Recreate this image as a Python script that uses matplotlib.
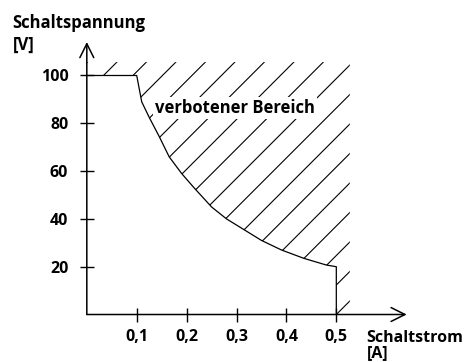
import matplotlib.pyplot as plt
import numpy as np
from matplotlib.collections import LineCollection
from matplotlib.patches import Polygon

# limit curve: Schaltstrom [A] vs. Schaltspannung [V]
strom = [0, 0.1, 0.11, 0.125, 0.145, 0.165, 0.19, 0.215, 0.25, 0.28,
         0.315, 0.35, 0.39, 0.435, 0.48, 0.5, 0.5]
spannung = [100, 100, 89, 82.5, 74.5, 66, 59, 53, 45, 40,
            35.5, 31, 27, 23.5, 20.7, 20, 0]

x_ticks = [0.1, 0.2, 0.3, 0.4, 0.5]
x_labels = ['0,1', '0,2', '0,3', '0,4', '0,5']
y_ticks = [20, 40, 60, 80, 100]
y_labels = ['20', '40', '60', '80', '100']

# bounds of the forbidden area (hatched)
region_right = 0.527
region_top = 105.6
hatch_step = 0.0591  # spacing of hatch lines along the current axis

plt.rcParams['font.family'] = 'Open Sans'
plt.rcParams['font.weight'] = 'bold'

fig = plt.figure(figsize=(4.68, 3.62), dpi=100)
ax = fig.add_axes([0.1855, 0.1312, 0.7037, 0.7659])
ax.set_xlim(0, 0.66)
ax.set_ylim(0, 116)
for s in ax.spines.values():
    s.set_visible(False)

# axes drawn as arrows
arrow = dict(arrowstyle='->,head_length=0.5,head_width=0.25', lw=1.1,
             color='black', shrinkA=0, shrinkB=0, mutation_scale=20)
ax.annotate('', xy=(0.641, 0), xytext=(0, 0), arrowprops=arrow,
            annotation_clip=False)
ax.annotate('', xy=(0, 114), xytext=(0, 0), arrowprops=arrow,
            annotation_clip=False)

ax.set_xticks(x_ticks, x_labels)
ax.set_yticks(y_ticks, y_labels)
ax.tick_params(direction='inout', length=9.4, width=1.0, labelsize=11.5,
               color='black')
ax.tick_params(axis='y', pad=8.6)
ax.tick_params(axis='x', pad=6.0)

# curve
ax.plot(strom, spannung, color='black', lw=0.9, solid_joinstyle='round',
        zorder=2)

# hatched region above the curve
verts = list(zip(strom, spannung)) + [(region_right, 0),
                                      (region_right, region_top),
                                      (0, region_top)]
area = Polygon(verts, closed=True, facecolor='none', edgecolor='none',
               transform=ax.transData)
ax.add_patch(area)

p = ax.transData.transform([(0, 0), (1, 1)])
slope = (p[1, 0] - p[0, 0]) / (p[1, 1] - p[0, 1])  # 45 deg on screen
segs = []
for k in range(0, 20):
    i0 = strom[-1] - k * hatch_step
    segs.append([(i0, 0), (i0 + 130 / slope, 130)])
hatch = LineCollection(segs, colors='black', linewidths=0.8, zorder=1)
hatch.set_clip_path(area)
ax.add_collection(hatch)

ax.text(0.1367, 84.3, 'verbotener Bereich', fontsize=12, va='baseline',
        bbox=dict(facecolor='white', edgecolor='none', pad=1.5), zorder=3)

# axis titles
fig.text(12 / 468, 1 - 27.5 / 362, 'Schaltspannung', fontsize=12,
         va='baseline')
fig.text(13 / 468, 1 - 49.5 / 362, '[V]', fontsize=12, va='baseline')
fig.text(366.7 / 468, 1 - 341.7 / 362, 'Schaltstrom', fontsize=11.5,
         va='baseline')
fig.text(367 / 468, 1 - 357 / 362, '[A]', fontsize=11.5, va='baseline')

fig.savefig('out.png', dpi=100)
